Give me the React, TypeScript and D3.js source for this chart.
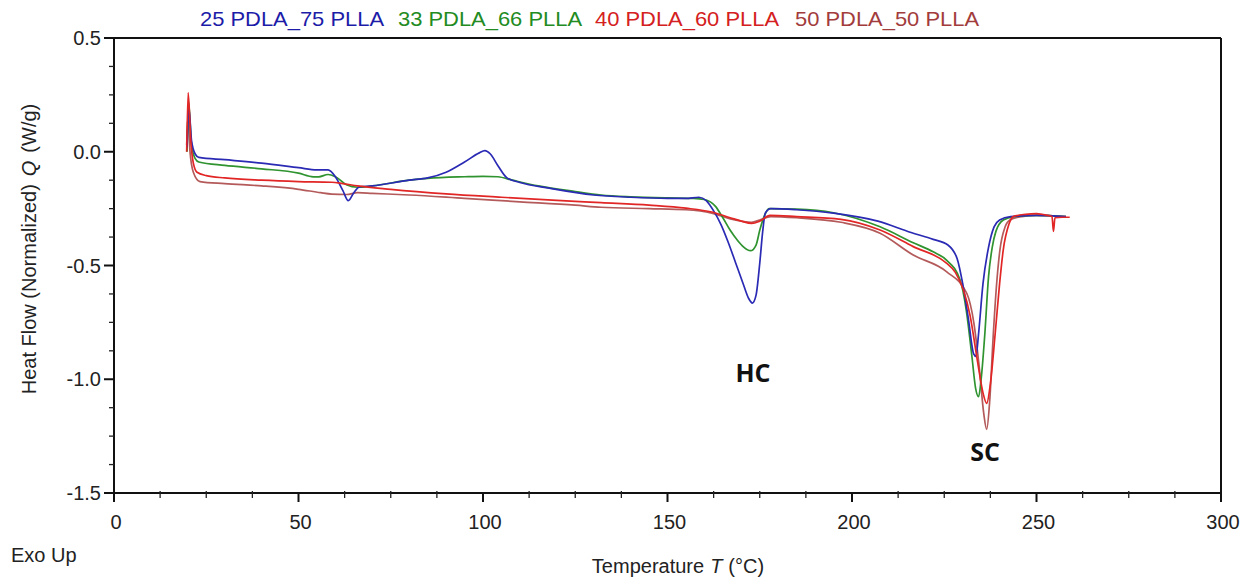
import React from "react";
import * as d3 from "d3";

type Pt = [number, number];

const seriesNames = ["25 PDLA_75 PLLA", "33 PDLA_66 PLLA", "40 PDLA_60 PLLA", "50 PDLA_50 PLLA"];
const curveColors = ["#2a2ab4", "#2f932f", "#e22626", "#b45a5a"];
const legendColors = ["#1c1ca8", "#228b22", "#d42020", "#a23c3c"];

const xTicks = [0, 50, 100, 150, 200, 250, 300];
const yTicks = [0.5, 0.0, -0.5, -1.0, -1.5];
const yTickLabels = ["0.5", "0.0", "-0.5", "-1.0", "-1.5"];

// 25 PDLA_75 PLLA
const s25: Pt[] = [
  [19.8, 0.02], [20.3, 0.19], [21, 0.05], [22, -0.01], [23, -0.025], [30, -0.035], [40, -0.05],
  [50, -0.07], [55, -0.08], [58, -0.08], [60, -0.11], [62, -0.17], [63.5, -0.215], [65, -0.18],
  [66.5, -0.155], [70, -0.15], [80, -0.125], [85, -0.115], [90, -0.09], [95, -0.045], [99, -0.005],
  [100.5, 0.005], [102, -0.01], [104, -0.06], [106.5, -0.115], [110, -0.135], [118, -0.16],
  [130, -0.19], [140, -0.2], [150, -0.205], [155, -0.205], [158.5, -0.2], [160.5, -0.215],
  [162.5, -0.26], [164.5, -0.32], [166.5, -0.4], [168.5, -0.49], [170.5, -0.58], [172, -0.645],
  [173, -0.665], [174, -0.63], [175, -0.49], [175.8, -0.35], [176.5, -0.27], [178, -0.25],
  [185, -0.255], [195, -0.27], [207, -0.305], [216, -0.355], [222, -0.385], [226, -0.41],
  [228.5, -0.47], [230, -0.58], [231.5, -0.73], [233, -0.89], [233.6, -0.9], [234.3, -0.8],
  [235.5, -0.58], [237, -0.42], [238.5, -0.33], [240, -0.3], [243, -0.285], [250, -0.28], [258, -0.285],
];

// 33 PDLA_66 PLLA
const s33: Pt[] = [
  [19.8, 0.0], [20.2, 0.22], [21, 0.03], [22, -0.03], [23, -0.045], [30, -0.06], [40, -0.075],
  [50, -0.094], [54, -0.11], [55.5, -0.11], [58, -0.1], [60, -0.11], [63, -0.145], [66, -0.156],
  [70, -0.15], [80, -0.125], [85, -0.117], [95, -0.11], [100, -0.108], [104, -0.11], [108, -0.125],
  [115, -0.15], [125, -0.175], [132, -0.19], [140, -0.198], [150, -0.203], [157, -0.205],
  [160, -0.21], [163, -0.24], [165, -0.29], [167, -0.345], [169, -0.39], [170.5, -0.417],
  [172.5, -0.435], [174, -0.41], [175, -0.345], [176.3, -0.28], [177.5, -0.25], [185, -0.252],
  [195, -0.268], [207.6, -0.33], [216.6, -0.4], [222, -0.44], [225.6, -0.476], [229.3, -0.564],
  [231, -0.7], [232.5, -0.9], [233.5, -1.04], [234.3, -1.077], [235, -1.0], [236, -0.8],
  [237, -0.55], [238, -0.42], [239, -0.35], [241, -0.3], [244, -0.285], [250, -0.28], [258, -0.285],
];

// 40 PDLA_60 PLLA
const s40: Pt[] = [
  [19.7, 0.0], [20.1, 0.26], [20.8, 0.05], [21.5, -0.05], [22.5, -0.09], [25, -0.105], [30, -0.115],
  [40, -0.125], [50, -0.131], [59, -0.134], [62, -0.14], [66, -0.15], [75, -0.165], [90, -0.185],
  [105, -0.2], [120, -0.214], [132, -0.224], [145, -0.235], [155, -0.248], [162, -0.265],
  [167, -0.29], [170, -0.305], [172.8, -0.315], [175, -0.305], [177.8, -0.28], [185, -0.285],
  [197, -0.297], [207.6, -0.344], [216.6, -0.417], [225.6, -0.49], [228, -0.53], [230.2, -0.608],
  [232, -0.72], [234, -0.92], [235.5, -1.06], [236.5, -1.106], [237.5, -1.02], [238.8, -0.8],
  [240, -0.58], [241, -0.43], [242.5, -0.32], [243.7, -0.285], [247, -0.275], [250, -0.272],
  [253, -0.28], [254.2, -0.285], [254.6, -0.35], [255, -0.29], [257, -0.288], [259, -0.288],
];

// 50 PDLA_50 PLLA
const s50: Pt[] = [
  [19.7, 0.03], [20, 0.15], [20.6, 0.0], [21.5, -0.09], [23.3, -0.131], [30, -0.14], [40, -0.15],
  [50, -0.165], [56, -0.18], [59, -0.186], [63, -0.188], [66, -0.18], [70, -0.183], [80, -0.19],
  [95, -0.205], [110, -0.22], [125, -0.235], [132, -0.244], [145, -0.25], [155, -0.255],
  [162, -0.27], [167, -0.295], [170, -0.305], [172.8, -0.31], [175, -0.3], [178, -0.285],
  [185, -0.29], [197, -0.31], [207.6, -0.358], [216.6, -0.454], [225.6, -0.527], [231.1, -0.622],
  [233, -0.75], [234.5, -0.95], [235.7, -1.15], [236.5, -1.22], [237.3, -1.1], [238.3, -0.8],
  [239.2, -0.58], [240.1, -0.43], [241.5, -0.33], [242.8, -0.3], [246, -0.285], [250, -0.28], [258, -0.285],
];

const seriesData = [s25, s33, s40, s50];
const drawOrder = [3, 1, 0, 2];

const W = 1251;
const H = 579;
const L = 114, R = 1221, T = 38, B = 493;

export default function App() {
  const x = d3.scaleLinear().domain([0, 300]).range([L, R]);
  const y = d3.scaleLinear().domain([-1.5, 0.5]).range([B, T]);
  const line = d3
    .line<Pt>()
    .x((d) => x(d[0]))
    .y((d) => y(d[1]))
    .curve(d3.curveMonotoneX);

  const xMinor = d3.range(0, 300.01, 12.5).filter((v) => Math.abs(v % 50) > 1e-6);
  const yMinor = d3.range(-1.5, 0.5001, 0.125).filter((v) => Math.abs((v * 2) - Math.round(v * 2)) > 1e-6);

  const font = "'Liberation Sans', Arial, sans-serif";
  const legendX = [200, 398, 595, 795];

  return (
    <svg width={W} height={H} style={{ position: "absolute", left: 0, top: 0, background: "#fff" }} fontFamily={font}>
      <rect x={0} y={0} width={W} height={H} fill="#fff" />
      {/* legend */}
      {seriesNames.map((n, i) => (
        <text key={n} x={legendX[i]} y={26} fontSize={21} fill={legendColors[i]} textLength={184} lengthAdjust="spacingAndGlyphs">
          {n}
        </text>
      ))}
      {/* curves */}
      <g clipPath="url(#clip)">
        {drawOrder.map((i) => (
          <path key={i} d={line(seriesData[i]) || ""} fill="none" stroke={curveColors[i]} strokeWidth={1.7} strokeLinejoin="round" />
        ))}
      </g>
      <defs>
        <clipPath id="clip">
          <rect x={L} y={T} width={R - L} height={B - T} />
        </clipPath>
      </defs>
      {/* frame */}
      <line x1={L} x2={R} y1={T} y2={T} stroke="#111" strokeWidth={2} />
      <line x1={R} x2={R} y1={T} y2={B + 9} stroke="#111" strokeWidth={2} />
      <line x1={L} x2={R} y1={B} y2={B} stroke="#111" strokeWidth={2} />
      <line x1={L} x2={L} y1={T} y2={B + 9} stroke="#111" strokeWidth={2} />
      {/* x ticks */}
      {xTicks.map((v) => (
        <g key={"xt" + v}>
          <line x1={x(v)} x2={x(v)} y1={B} y2={B + 9} stroke="#111" strokeWidth={2} />
          <text x={v === 300 ? x(v) + 2 : x(v) + 2} y={529} fontSize={20} textAnchor="middle" fill="#222">
            {v}
          </text>
        </g>
      ))}
      {xMinor.map((v) => (
        <line key={"xm" + v} x1={x(v)} x2={x(v)} y1={B - 2} y2={B + 5} stroke="#222" strokeWidth={1.3} />
      ))}
      {/* y ticks */}
      {yTicks.map((v, i) => (
        <g key={"yt" + v}>
          <line x1={L - 10} x2={L} y1={y(v)} y2={y(v)} stroke="#111" strokeWidth={2} />
          <text x={101} y={y(v) + 7} fontSize={20} textAnchor="end" fill="#222">
            {yTickLabels[i]}
          </text>
        </g>
      ))}
      {yMinor.map((v) => (
        <line key={"ym" + v} x1={L - 5} x2={L} y1={y(v)} y2={y(v)} stroke="#222" strokeWidth={1.3} />
      ))}
      {/* axis titles */}
      <text x={0} y={0} transform="translate(36,249) rotate(-90)" fontSize={20} textAnchor="middle" fill="#222">
        Heat Flow (Normalized)
        <tspan dx={8} fontStyle="italic">Q</tspan>
        <tspan dx={8}>(W/g)</tspan>
      </text>
      <text x={678} y={573} fontSize={20} textAnchor="middle" fill="#222">
        Temperature
        <tspan dx={6} fontStyle="italic">T</tspan>
        <tspan dx={6}>(°C)</tspan>
      </text>
      <text x={11} y={562} fontSize={20} fill="#222">Exo Up</text>
      {/* annotations */}
      <text x={753} y={382} fontSize={25} fontWeight="bold" textAnchor="middle" fill="#111" fontFamily="'Open Sans', 'Liberation Sans', sans-serif">HC</text>
      <text x={985} y={461} fontSize={25} fontWeight="bold" textAnchor="middle" fill="#111" fontFamily="'Open Sans', 'Liberation Sans', sans-serif">SC</text>
    </svg>
  );
}
